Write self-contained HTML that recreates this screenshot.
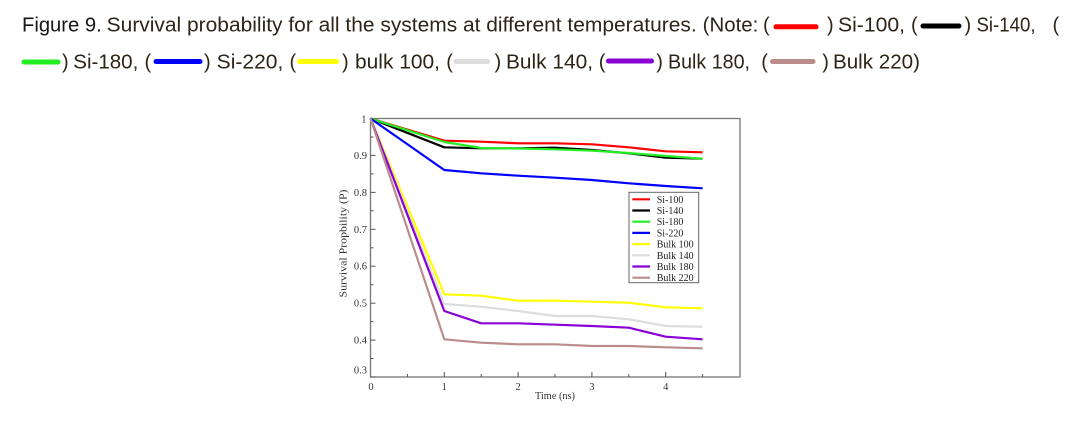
<!DOCTYPE html>
<html>
<head>
<meta charset="utf-8">
<style>
  html,body{margin:0;padding:0;background:#fff;}
  svg{display:block;}
  .h{font-family:"Liberation Sans",Arial,sans-serif;font-size:20px;fill:#2e2418;}
  .s{font-family:"Liberation Serif","Times New Roman",serif;fill:#333;}
</style>
</head>
<body>
<svg width="1071" height="421" viewBox="0 0 1071 421" xmlns="http://www.w3.org/2000/svg">
  <rect width="1071" height="421" fill="#fff"/>

  <!-- Caption line 1 -->
  <text class="h" x="22" y="31.5" textLength="79.7" lengthAdjust="spacingAndGlyphs" style="fill:#161616">Figure 9.</text>
  <text class="h" x="106.7" y="31.5" textLength="590" lengthAdjust="spacingAndGlyphs">Survival probability for all the systems at different temperatures.</text>
  <text class="h" x="702.7" y="31.5" textLength="55.6" lengthAdjust="spacingAndGlyphs">(Note:</text>
  <text class="h" x="763" y="31.5">(</text>
  <line x1="776" y1="26.8" x2="816" y2="26.8" stroke="#ff0000" stroke-width="5" stroke-linecap="round"/>
  <text class="h" x="827" y="31.5">)</text>
  <text class="h" x="838" y="31.5" textLength="67" lengthAdjust="spacingAndGlyphs">Si-100,</text>
  <text class="h" x="911" y="31.5">(</text>
  <line x1="923" y1="26" x2="959" y2="26" stroke="#000" stroke-width="5" stroke-linecap="round"/>
  <text class="h" x="964.5" y="31.5">)</text>
  <text class="h" x="976.5" y="31.5" textLength="59" lengthAdjust="spacingAndGlyphs">Si-140,</text>
  <text class="h" x="1052.5" y="31.5">(</text>

  <!-- Caption line 2 -->
  <line x1="24" y1="62" x2="58" y2="62" stroke="#22ee22" stroke-width="5" stroke-linecap="round"/>
  <text class="h" x="62" y="68.3">)</text>
  <text class="h" x="73.3" y="68.3" textLength="65" lengthAdjust="spacingAndGlyphs">Si-180,</text>
  <text class="h" x="144.5" y="68.3">(</text>
  <line x1="156" y1="61.5" x2="200" y2="61.5" stroke="#0000ff" stroke-width="5" stroke-linecap="round"/>
  <text class="h" x="204" y="68.3">)</text>
  <text class="h" x="216.7" y="68.3" textLength="66.6" lengthAdjust="spacingAndGlyphs">Si-220,</text>
  <text class="h" x="289.5" y="68.3">(</text>
  <line x1="299.5" y1="61.5" x2="336.5" y2="61.5" stroke="#ffff00" stroke-width="5" stroke-linecap="round"/>
  <text class="h" x="342" y="68.3">)</text>
  <text class="h" x="355" y="68.3" textLength="85" lengthAdjust="spacingAndGlyphs">bulk 100,</text>
  <text class="h" x="446.2" y="68.3">(</text>
  <line x1="456" y1="61.5" x2="487.5" y2="61.5" stroke="#dddddd" stroke-width="5" stroke-linecap="round"/>
  <text class="h" x="494.5" y="68.3">)</text>
  <text class="h" x="506" y="68.3" textLength="87" lengthAdjust="spacingAndGlyphs">Bulk 140,</text>
  <text class="h" x="598.8" y="68.3">(</text>
  <line x1="608.5" y1="61" x2="651.5" y2="61" stroke="#8a00d4" stroke-width="5" stroke-linecap="round"/>
  <text class="h" x="656.2" y="68.3">)</text>
  <text class="h" x="668" y="68.3" textLength="82" lengthAdjust="spacingAndGlyphs">Bulk 180,</text>
  <text class="h" x="761.2" y="68.3">(</text>
  <line x1="772.5" y1="61.5" x2="813" y2="61.5" stroke="#bb8c8c" stroke-width="5" stroke-linecap="round"/>
  <text class="h" x="822.2" y="68.3">)</text>
  <text class="h" x="833" y="68.3" textLength="87" lengthAdjust="spacingAndGlyphs">Bulk 220)</text>

  <!-- Plot frame -->
  <rect x="370.5" y="118.5" width="369.5" height="258.5" fill="none" stroke="#777" stroke-width="1.3"/>

  <!-- Y ticks -->
  <g stroke="#555" stroke-width="1">
    <line x1="370.5" y1="377" x2="375.5" y2="377"/>
    <line x1="370.5" y1="340.1" x2="375.5" y2="340.1"/>
    <line x1="370.5" y1="303.2" x2="375.5" y2="303.2"/>
    <line x1="370.5" y1="266.2" x2="375.5" y2="266.2"/>
    <line x1="370.5" y1="229.3" x2="375.5" y2="229.3"/>
    <line x1="370.5" y1="192.4" x2="375.5" y2="192.4"/>
    <line x1="370.5" y1="155.4" x2="375.5" y2="155.4"/>
    <line x1="370.5" y1="358.5" x2="373.5" y2="358.5"/>
    <line x1="370.5" y1="321.6" x2="373.5" y2="321.6"/>
    <line x1="370.5" y1="284.7" x2="373.5" y2="284.7"/>
    <line x1="370.5" y1="247.8" x2="373.5" y2="247.8"/>
    <line x1="370.5" y1="210.8" x2="373.5" y2="210.8"/>
    <line x1="370.5" y1="173.9" x2="373.5" y2="173.9"/>
    <line x1="370.5" y1="137" x2="373.5" y2="137"/>
    <!-- X ticks -->
    <line x1="444.3" y1="377" x2="444.3" y2="372"/>
    <line x1="518.1" y1="377" x2="518.1" y2="372"/>
    <line x1="591.9" y1="377" x2="591.9" y2="372"/>
    <line x1="665.7" y1="377" x2="665.7" y2="372"/>
    <line x1="407.4" y1="377" x2="407.4" y2="374"/>
    <line x1="481.2" y1="377" x2="481.2" y2="374"/>
    <line x1="555" y1="377" x2="555" y2="374"/>
    <line x1="628.8" y1="377" x2="628.8" y2="374"/>
    <line x1="702.6" y1="377" x2="702.6" y2="374"/>
  </g>

  <!-- Y tick labels -->
  <g class="s" font-size="10.5" text-anchor="end">
    <text x="367" y="373.5">0.3</text>
    <text x="367" y="343.6">0.4</text>
    <text x="367" y="306.7">0.5</text>
    <text x="367" y="269.7">0.6</text>
    <text x="367" y="232.8">0.7</text>
    <text x="367" y="195.9">0.8</text>
    <text x="367" y="158.9">0.9</text>
    <text x="366.5" y="122.5">1</text>
  </g>
  <!-- X tick labels -->
  <g class="s" font-size="10.5" text-anchor="middle">
    <text x="371" y="390">0</text>
    <text x="444.3" y="390">1</text>
    <text x="518.1" y="390">2</text>
    <text x="591.9" y="390">3</text>
    <text x="665.7" y="390">4</text>
  </g>
  <text class="s" font-size="10" x="555" y="399" text-anchor="middle" textLength="40" lengthAdjust="spacingAndGlyphs">Time (ns)</text>
  <text class="s" font-size="10" transform="translate(346.5,243.5) rotate(-90)" text-anchor="middle" textLength="108" lengthAdjust="spacingAndGlyphs">Survival Propbility (P)</text>

  <!-- Series -->
  <g fill="none" stroke-width="2.2" stroke-linejoin="round">
    <polyline stroke="#ff0000" points="370.5,118.5 444.3,140.7 481.2,141.7 518.1,143.3 555,143.3 591.9,144.3 628.8,147.3 665.7,151.3 702.6,152.3"/>
    <polyline stroke="#000000" points="370.5,118.5 444.3,147.3 481.2,148.3 518.1,148.3 555,147.7 591.9,150 628.8,153.3 665.7,157.7 702.6,158.7"/>
    <polyline stroke="#22ee22" points="370.5,118.5 444.3,142 481.2,148 518.1,148.5 555,149.3 591.9,150.7 628.8,153 665.7,156 702.6,158.7"/>
    <polyline stroke="#0000ff" points="370.5,118.5 444.3,170 481.2,173.3 518.1,175.7 555,177.7 591.9,180 628.8,183.3 665.7,186 702.6,188.3"/>
    <polyline stroke="#ffff00" points="370.5,118.5 444.3,294.3 481.2,295.7 518.1,300.7 555,300.7 591.9,301.7 628.8,302.7 665.7,307.3 702.6,308.3"/>
    <polyline stroke="#dddddd" points="370.5,118.5 444.3,304 481.2,306.7 518.1,311 555,316 591.9,316 628.8,319.3 665.7,326 702.6,326.7"/>
    <polyline stroke="#8a00d4" points="370.5,118.5 444.3,311 481.2,323.3 518.1,323.3 555,324.7 591.9,326 628.8,327.7 665.7,336.7 702.6,339.3"/>
    <polyline stroke="#bb8c8c" points="370.5,118.5 444.3,339.3 481.2,342.7 518.1,344.3 555,344.3 591.9,346 628.8,346 665.7,347.3 702.6,348.3"/>
  </g>

  <!-- Legend -->
  <rect x="629" y="192.3" width="69.7" height="90.4" fill="#fff" stroke="#666" stroke-width="1"/>
  <g stroke-width="2.2">
    <line x1="632.3" y1="199.3" x2="650" y2="199.3" stroke="#ff0000"/>
    <line x1="632.3" y1="210.5" x2="650" y2="210.5" stroke="#000000"/>
    <line x1="632.3" y1="221.7" x2="650" y2="221.7" stroke="#22ee22"/>
    <line x1="632.3" y1="232.9" x2="650" y2="232.9" stroke="#0000ff"/>
    <line x1="632.3" y1="244.1" x2="650" y2="244.1" stroke="#ffff00"/>
    <line x1="632.3" y1="255.3" x2="650" y2="255.3" stroke="#dddddd"/>
    <line x1="632.3" y1="266.5" x2="650" y2="266.5" stroke="#8a00d4"/>
    <line x1="632.3" y1="277.7" x2="650" y2="277.7" stroke="#bb8c8c"/>
  </g>
  <g class="s" font-size="10" style="fill:#222">
    <text x="656.7" y="202.8">Si-100</text>
    <text x="656.7" y="214">Si-140</text>
    <text x="656.7" y="225.2">Si-180</text>
    <text x="656.7" y="236.4">Si-220</text>
    <text x="656.7" y="247.6">Bulk 100</text>
    <text x="656.7" y="258.8">Bulk 140</text>
    <text x="656.7" y="270">Bulk 180</text>
    <text x="656.7" y="281.2">Bulk 220</text>
  </g>
</svg>
</body>
</html>
